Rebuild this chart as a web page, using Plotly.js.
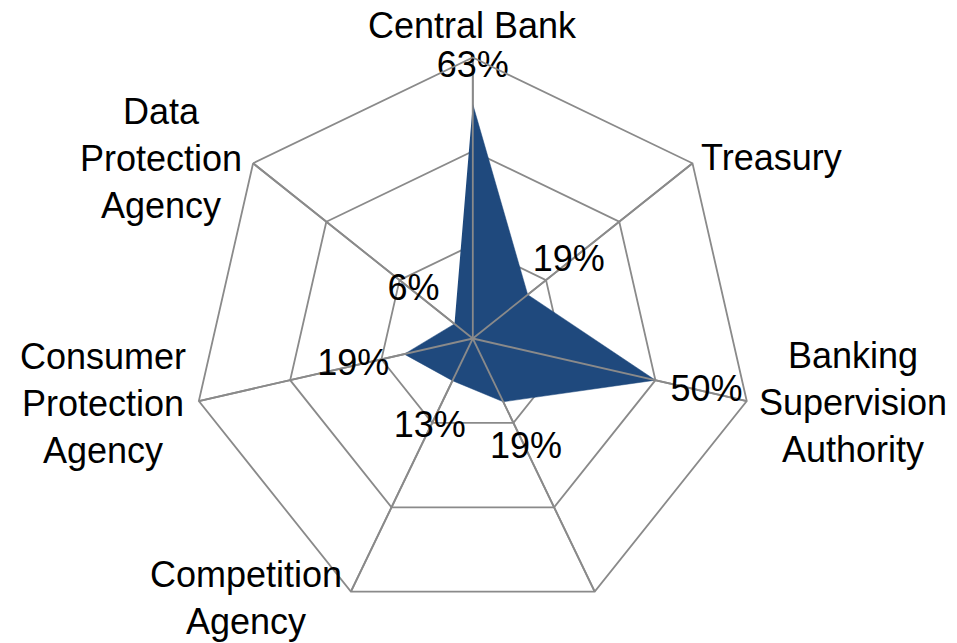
<!DOCTYPE html>
<html>
<head>
<meta charset="utf-8">
<script src="https://cdn.plot.ly/plotly-3.0.1.min.js"></script>
<style>html,body{margin:0;padding:0;background:#fff;}#chart{width:957px;height:643px;}</style>
</head>
<body>
<div id="chart"></div>
<script>
// ---- data ----
const categories = ['Central Bank', 'Treasury', 'Banking Supervision Authority', '(unlabelled)', 'Competition Agency', 'Consumer Protection Agency', 'Data Protection Agency'];
const categoryLabels = ['Central Bank', 'Treasury', 'Banking<br>Supervision<br>Authority', '', 'Competition<br>Agency', 'Consumer<br>Protection<br>Agency', 'Data<br>Protection<br>Agency'];
const shares = [62.5, 18.75, 50, 18.75, 12.5, 18.75, 6.25];
const shareLabels = ['63%', '19%', '50%', '19%', '13%', '19%', '6%'];
const radialTicks = [25, 50, 75];

// ---- style / geometry ----
const W = 957, H = 643;
const CX = 472.8, CY = 338.5, R = 281;
const rMax = radialTicks[radialTicks.length - 1];
const gray = '#8a8a8a';
const navy = '#1F497D';
const FONT = 'Liberation Sans, Arial, sans-serif';
const labelOffset = 14;
const labelCap = rMax - 2.8;

const fillTrace = {
  type: 'scatterpolar', mode: 'lines',
  r: shares, theta: categories,
  fill: 'toself', fillcolor: navy,
  line: {color: navy, width: 0.5},
  hoverinfo: 'skip', showlegend: false
};

const spokeR = [], spokeT = [];
categories.forEach(c => { spokeT.push(c, c, c); spokeR.push(0, rMax, null); });
const spokeTrace = {
  type: 'scatterpolar', mode: 'lines',
  r: spokeR, theta: spokeT, connectgaps: false,
  line: {color: gray, width: 1.8},
  hoverinfo: 'skip', showlegend: false
};

const labelTrace = {
  type: 'scatterpolar', mode: 'text',
  r: shares.map(v => Math.min(v + labelOffset, labelCap)), theta: categories,
  text: shareLabels,
  textposition: 'middle center',
  textfont: {family: FONT, size: 36, color: '#000'},
  cliponaxis: false, hoverinfo: 'skip', showlegend: false
};

// category label annotations, anchored next to the outer polygon vertices
const anchorSpec = [
  {dx: 0, dy: -32, xa: 'center'},
  {dx: 7, dy: -6, xa: 'left'},
  {dx: 10, dy: 1, xa: 'left'},
  {dx: 0, dy: 0, xa: 'center'},
  {dx: -7, dy: 6, xa: 'right'},
  {dx: -11, dy: 2, xa: 'right'},
  {dx: -9, dy: -5, xa: 'right'}
];
const annotations = categoryLabels.map((t, i) => {
  const th = (90 - i * 360 / categories.length) * Math.PI / 180;
  const vx = CX + R * Math.cos(th), vy = CY - R * Math.sin(th);
  const s = anchorSpec[i];
  return {
    text: t, showarrow: false, xref: 'paper', yref: 'paper',
    x: (vx + s.dx) / W, y: 1 - (vy + s.dy) / H,
    xanchor: s.xa, yanchor: 'middle', align: 'center',
    font: {family: FONT, size: 36, color: '#000'}
  };
});

const layout = {
  width: W, height: H,
  margin: {l: 0, r: 0, t: 0, b: 0},
  paper_bgcolor: '#fff',
  showlegend: false,
  font: {family: FONT},
  polar: {
    domain: {x: [(CX - R) / W, (CX + R) / W], y: [1 - (CY + R) / H, 1 - (CY - R) / H]},
    gridshape: 'linear',
    bgcolor: '#fff',
    radialaxis: {
      range: [0, rMax], tickmode: 'array', tickvals: radialTicks,
      showticklabels: false, ticks: '', showline: false,
      gridcolor: gray, gridwidth: 1.8
    },
    angularaxis: {
      rotation: 90, direction: 'clockwise',
      showticklabels: false, ticks: '',
      showline: true, linecolor: gray, linewidth: 1.8,
      gridcolor: gray, gridwidth: 1.8
    }
  },
  annotations: annotations
};

Plotly.newPlot('chart', [fillTrace, spokeTrace, labelTrace], layout, {displayModeBar: false, staticPlot: true});
</script>
</body>
</html>
